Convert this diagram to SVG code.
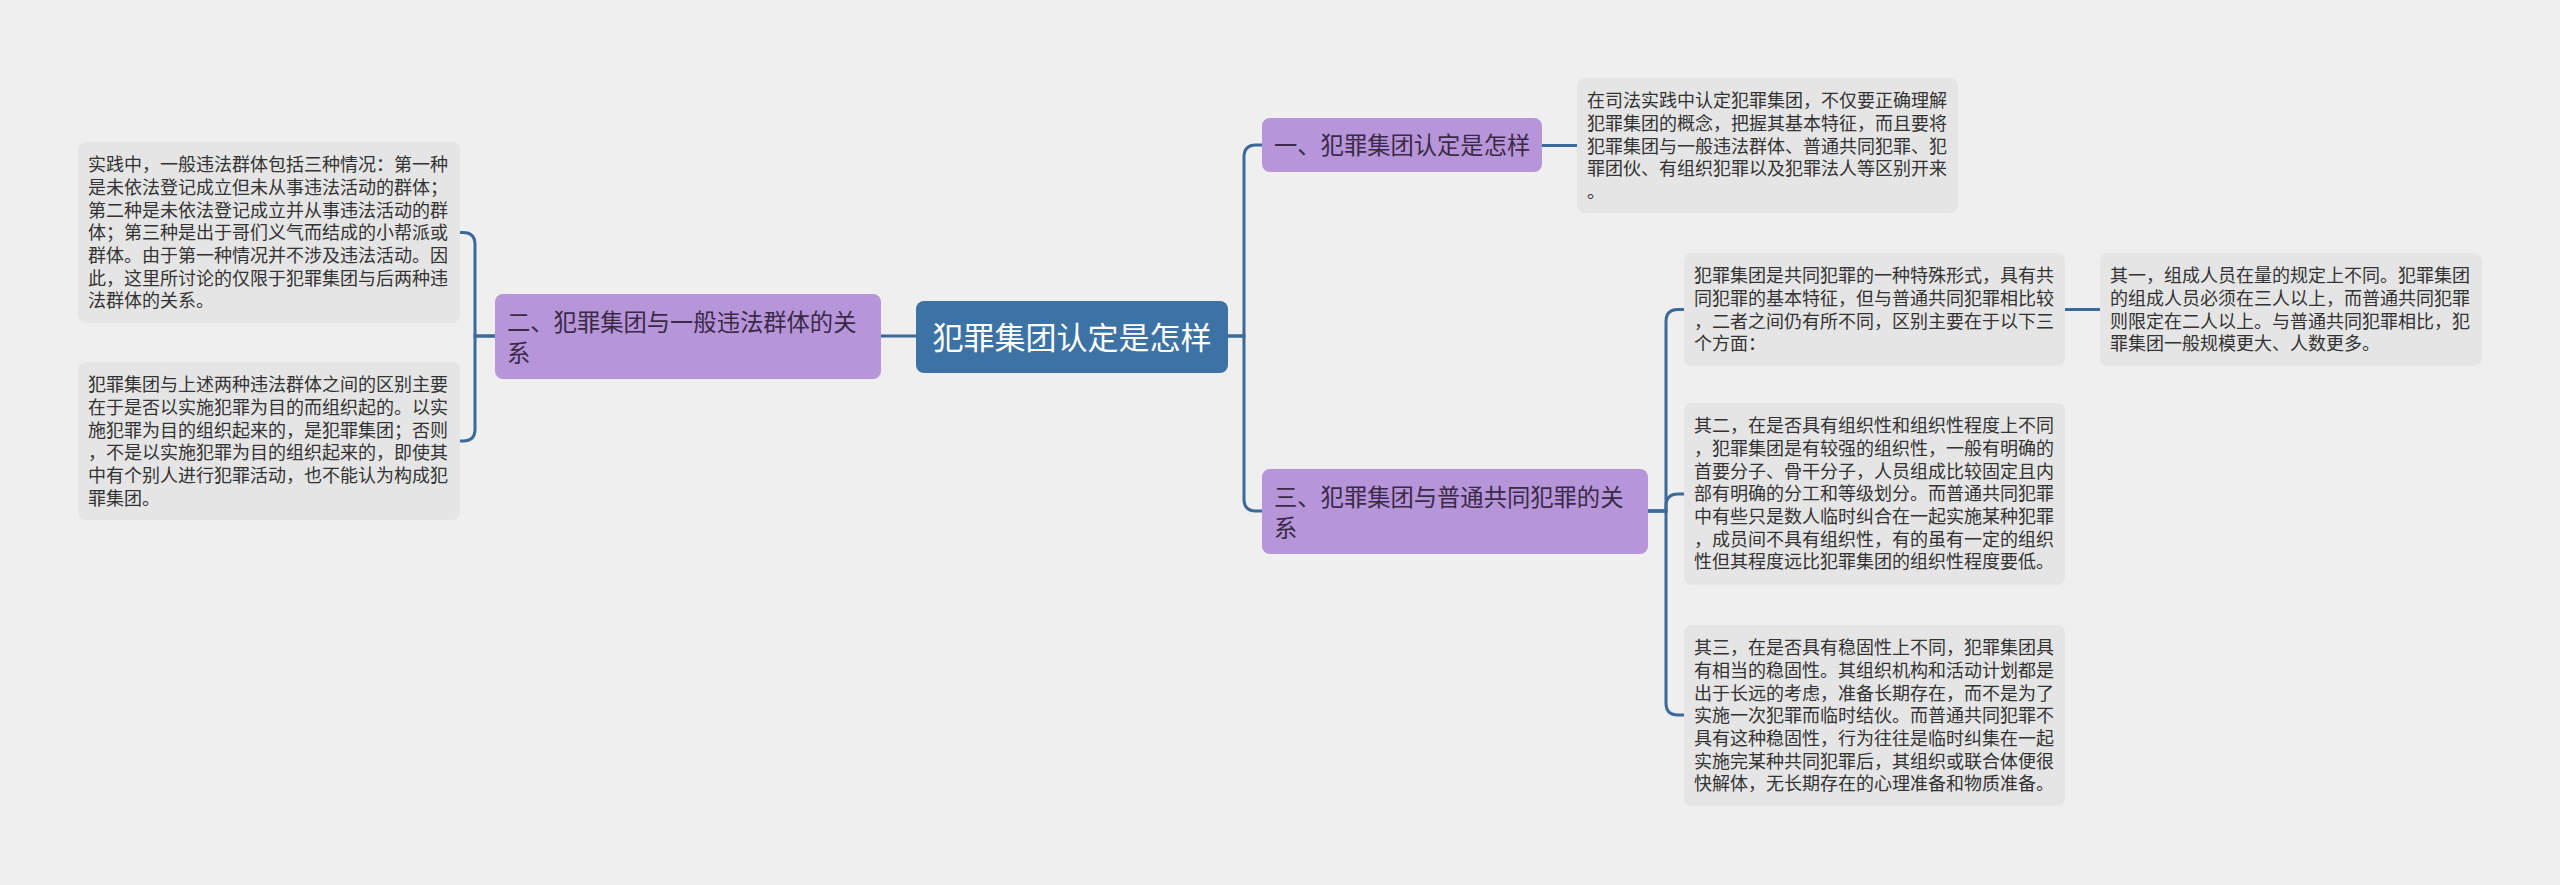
<svg xmlns="http://www.w3.org/2000/svg" width="2560" height="885" viewBox="0 0 2560 885">
<style>
.bg{fill:#efefef}
.root rect{fill:#3d72a4}
.root text{fill:#ffffff;font-size:31px}
.main rect{fill:#b795d9}
.main text{fill:#3a2a48;font-size:23.3px}
.leaf rect{fill:#e5e5e5}
.leaf text{fill:#333333;font-size:18px}
text{font-family:"Noto Sans CJK SC","Noto Sans",sans-serif}
.conn path{fill:none;stroke:#3b6a99;stroke-width:3;stroke-linecap:round}
</style>
<rect class="bg" x="0" y="0" width="2560" height="885"/>
<g class="conn" id="connectors">
<path d="M916 336 H881"/>
<path d="M495 336 H475 V244.5 Q475 232.5 463 232.5 H460"/>
<path d="M495 336 H475 V429 Q475 441 463 441 H460"/>
<path d="M1228 336 H1244 V157 Q1244 145 1256 145 H1262"/>
<path d="M1228 336 H1244 V499 Q1244 511 1256 511 H1262"/>
<path d="M1542 145.5 H1577"/>
<path d="M1648 511 H1666 V321.5 Q1666 309.5 1678 309.5 H1684"/>
<path d="M1648 511 H1666 V506 Q1666 494 1678 494 H1684"/>
<path d="M1648 511 H1666 V703 Q1666 715 1678 715 H1684"/>
<path d="M2065 309.5 H2100"/>
</g>
<g class="root" id="node-root">
<rect x="916" y="301" width="312" height="72" rx="8"/>
<text x="1072" y="348.5" text-anchor="middle">犯罪集团认定是怎样</text>
</g>
<g class="main" id="node-1">
<rect x="1262" y="118" width="280" height="54" rx="8"/>
<text x="1274" y="153.9">一、犯罪集团认定是怎样</text>
</g>
<g class="main" id="node-2">
<rect x="495" y="294" width="386" height="85" rx="8"/>
<text x="507" y="330.9">二、犯罪集团与一般违法群体的关</text>
<text x="507" y="361.9">系</text>
</g>
<g class="main" id="node-3">
<rect x="1262" y="469" width="386" height="85" rx="8"/>
<text x="1274" y="505.9">三、犯罪集团与普通共同犯罪的关</text>
<text x="1274" y="536.9">系</text>
</g>
<g class="leaf" id="leaf-l1">
<rect x="78" y="142" width="382" height="181" rx="8"/>
<text x="88" y="171.2">实践中，一般违法群体包括三种情况：第一种</text>
<text x="88" y="193.9">是未依法登记成立但未从事违法活动的群体；</text>
<text x="88" y="216.6">第二种是未依法登记成立并从事违法活动的群</text>
<text x="88" y="239.3">体；第三种是出于哥们义气而结成的小帮派或</text>
<text x="88" y="262">群体。由于第一种情况并不涉及违法活动。因</text>
<text x="88" y="284.7">此，这里所讨论的仅限于犯罪集团与后两种违</text>
<text x="88" y="307.4">法群体的关系。</text>
</g>
<g class="leaf" id="leaf-l2">
<rect x="78" y="362" width="382" height="158" rx="8"/>
<text x="88" y="391.2">犯罪集团与上述两种违法群体之间的区别主要</text>
<text x="88" y="413.9">在于是否以实施犯罪为目的而组织起的。以实</text>
<text x="88" y="436.6">施犯罪为目的组织起来的，是犯罪集团；否则</text>
<text x="88" y="459.3">，不是以实施犯罪为目的组织起来的，即使其</text>
<text x="88" y="482">中有个别人进行犯罪活动，也不能认为构成犯</text>
<text x="88" y="504.7">罪集团。</text>
</g>
<g class="leaf" id="leaf-r1">
<rect x="1577" y="78" width="381" height="135" rx="8"/>
<text x="1587" y="107.2">在司法实践中认定犯罪集团，不仅要正确理解</text>
<text x="1587" y="129.9">犯罪集团的概念，把握其基本特征，而且要将</text>
<text x="1587" y="152.6">犯罪集团与一般违法群体、普通共同犯罪、犯</text>
<text x="1587" y="175.3">罪团伙、有组织犯罪以及犯罪法人等区别开来</text>
<text x="1587" y="198">。</text>
</g>
<g class="leaf" id="leaf-c1">
<rect x="1684" y="253" width="381" height="113" rx="8"/>
<text x="1694" y="282.2">犯罪集团是共同犯罪的一种特殊形式，具有共</text>
<text x="1694" y="304.9">同犯罪的基本特征，但与普通共同犯罪相比较</text>
<text x="1694" y="327.6">，二者之间仍有所不同，区别主要在于以下三</text>
<text x="1694" y="350.3">个方面：</text>
</g>
<g class="leaf" id="leaf-d1">
<rect x="2100" y="253" width="382" height="113" rx="8"/>
<text x="2110" y="282.2">其一，组成人员在量的规定上不同。犯罪集团</text>
<text x="2110" y="304.9">的组成人员必须在三人以上，而普通共同犯罪</text>
<text x="2110" y="327.6">则限定在二人以上。与普通共同犯罪相比，犯</text>
<text x="2110" y="350.3">罪集团一般规模更大、人数更多。</text>
</g>
<g class="leaf" id="leaf-c2">
<rect x="1684" y="403" width="381" height="182" rx="8"/>
<text x="1694" y="432.2">其二，在是否具有组织性和组织性程度上不同</text>
<text x="1694" y="454.9">，犯罪集团是有较强的组织性，一般有明确的</text>
<text x="1694" y="477.6">首要分子、骨干分子，人员组成比较固定且内</text>
<text x="1694" y="500.3">部有明确的分工和等级划分。而普通共同犯罪</text>
<text x="1694" y="523">中有些只是数人临时纠合在一起实施某种犯罪</text>
<text x="1694" y="545.7">，成员间不具有组织性，有的虽有一定的组织</text>
<text x="1694" y="568.4">性但其程度远比犯罪集团的组织性程度要低。</text>
</g>
<g class="leaf" id="leaf-c3">
<rect x="1684" y="625" width="381" height="181" rx="8"/>
<text x="1694" y="654.2">其三，在是否具有稳固性上不同，犯罪集团具</text>
<text x="1694" y="676.9">有相当的稳固性。其组织机构和活动计划都是</text>
<text x="1694" y="699.6">出于长远的考虑，准备长期存在，而不是为了</text>
<text x="1694" y="722.3">实施一次犯罪而临时结伙。而普通共同犯罪不</text>
<text x="1694" y="745">具有这种稳固性，行为往往是临时纠集在一起</text>
<text x="1694" y="767.7">实施完某种共同犯罪后，其组织或联合体便很</text>
<text x="1694" y="790.4">快解体，无长期存在的心理准备和物质准备。</text>
</g>
</svg>
